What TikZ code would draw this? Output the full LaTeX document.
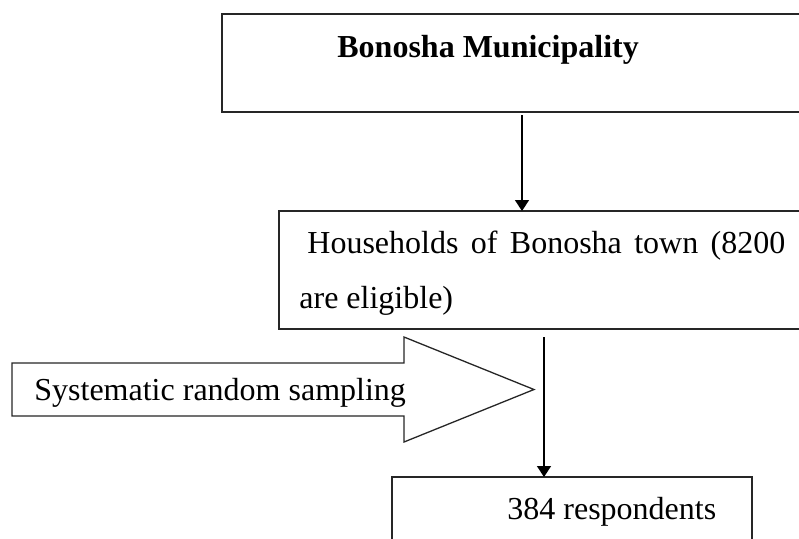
\documentclass[tikz,border=0pt]{standalone}
\usepackage{fontspec}
\setmainfont{Liberation Serif}
\usepackage{tikz}
\usetikzlibrary{positioning}
\usetikzlibrary{arrows.meta,calc}
\tikzstyle{stagebox}=[rectangle,draw=black!85,line width=0.8pt,inner sep=0pt,outer sep=0pt]
\tikzstyle{stagetext}=[anchor=base west,inner sep=0pt,font=\fontsize{16}{19}\selectfont]
\tikzstyle{flowarrow}=[draw,line width=0.7pt,-{Triangle[length=5.5pt,width=7pt]}]
\tikzstyle{samplearrow}=[draw=black!85,line width=0.65pt,fill=white]

\begin{document}
\begin{tikzpicture}[x=0.5pt,y=-0.5pt]

    \clip (0,0) rectangle (799,538);

    % stages of the sampling
    \node[stagebox,minimum width=300pt,minimum height=49pt] (muni) at (522,63) {};
    \node[stagebox,minimum width=280pt,minimum height=59pt] (house) at (559,270) {};
    \node[stagebox,minimum width=180pt,minimum height=61.5pt] (resp) at (572,538.5) {};

    \node[stagetext,font=\fontsize{16}{19}\selectfont\bfseries] (munitext) at (337,57) {Bonosha Municipality};
    \node[stagetext] (housetext) at (307,253) {\makebox[239pt][s]{Households of Bonosha town (8200}};
    \node[stagetext] (housetexttwo) at (299,308) {are eligible)};
    \node[stagetext] (resptext) at (507,519) {384 respondents};

    % big arrow for the method
    \path[samplearrow] (12,363) -- (404,363) -- (404,337) -- (534,389.5) -- (404,442) -- (404,416) -- (12,416) -- cycle;
    \node[stagetext] (sampling) at (34,400) {Systematic random sampling};

    \path[flowarrow,shorten <=1.5pt] (muni.south) -- (muni.south |- house.north);
    \path[flowarrow,shorten <=4pt] ([xshift=-14pt]resp.north |- house.south) -- ([xshift=-14pt]resp.north);

\end{tikzpicture}
\end{document}
